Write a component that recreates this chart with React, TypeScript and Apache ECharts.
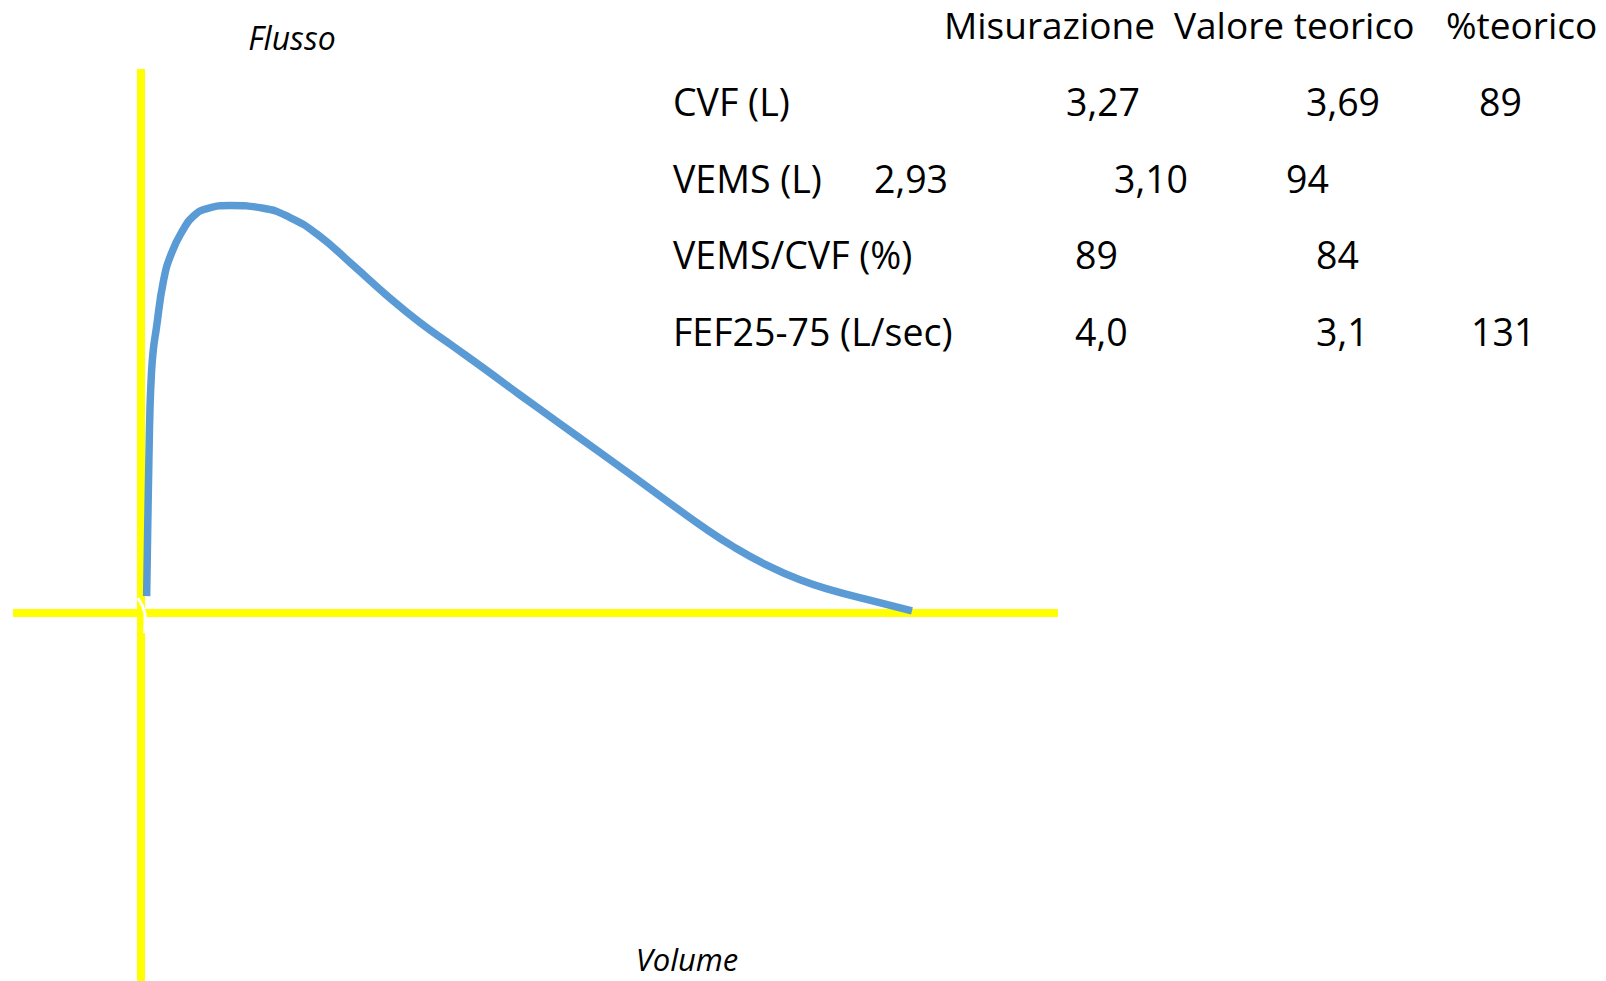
import React, { useEffect, useRef } from "react";
import * as echarts from "echarts";

// ---- Data ----
// Flow-volume curve (volume in L, flow in L/s)
const volume = [
  0.024, 0.029, 0.0335, 0.038, 0.044, 0.052, 0.064, 0.096, 0.13, 0.178, 0.221, 0.284, 0.377,
  0.519, 0.632, 0.745, 0.9, 1.042, 1.183, 1.325, 1.466, 1.607, 1.777, 1.947, 2.088, 2.23,
  2.371, 2.512, 2.654, 2.795, 2.936, 3.078, 3.27,
];
const flow = [
  0.31, 1.71, 2.81, 3.73, 4.38, 4.83, 5.2, 6.12, 6.62, 7.04, 7.29, 7.44, 7.49,
  7.44, 7.27, 6.97, 6.39, 5.84, 5.34, 4.9, 4.46, 4.01, 3.48, 2.95, 2.51, 2.06,
  1.62, 1.22, 0.88, 0.61, 0.41, 0.25, 0.04,
];

const axisTitleY = "Flusso";
const axisTitleX = "Volume";

const tableHeaders = ["Misurazione", "Valore teorico", "%teorico"];
const rowLabels = ["CVF (L)", "VEMS (L)", "VEMS/CVF (%)", "FEF25-75 (L/sec)"];
const misurazione = ["3,27", "2,93", "89", "4,0"];
const valoreTeorico = ["3,69", "3,10", "84", "3,1"];
const percentTeorico = ["89", "94", "", "131"];

// ---- Layout (positions only) ----
const headerX = [944, 1174, 1446];
const headerY = 24;
const rowY = [101.5, 178, 254.5, 331];
const labelX = 673;
const valueColX = [
  [1066, 1306, 1479],
  [874, 1114, 1286],
  [1075, 1316, 1470],
  [1075, 1316, 1471],
];

const FONT = "'Open Sans', 'Liberation Sans', sans-serif";

export default function App() {
  const ref = useRef<HTMLDivElement>(null);

  useEffect(() => {
    if (!ref.current) return;
    const chart = echarts.init(ref.current, undefined, { renderer: "svg" });

    const textEl = (
      text: string,
      x: number,
      y: number,
      size: number,
      align: string = "left",
      italic = false
    ) => ({
      type: "text",
      x,
      y,
      z: 100,
      style: {
        text,
        fill: "#000000",
        fontSize: size,
        fontFamily: FONT,
        fontStyle: italic ? "italic" : "normal",
        align,
        verticalAlign: "middle",
        textAlign: align,
        textVerticalAlign: "middle",
      },
    });

    const graphics: any[] = [];
    graphics.push(textEl(axisTitleY, 292, 37.5, 32, "center", true));
    graphics.push(textEl(axisTitleX, 687, 959, 31, "center", true));
    tableHeaders.forEach((h, i) => graphics.push(textEl(h, headerX[i], headerY, 37)));
    rowLabels.forEach((lab, r) => {
      graphics.push(textEl(lab, labelX, rowY[r], 37.5));
      const vals = [misurazione[r], valoreTeorico[r], percentTeorico[r]];
      vals.forEach((v, c) => {
        if (v) graphics.push(textEl(v, valueColX[r][c], rowY[r], 37.5));
      });
    });
    // small white cut near the axes crossing
    graphics.push({
      type: "polyline",
      z: 100,
      shape: {
        points: [
          [138, 598],
          [142.5, 606],
          [145, 614],
          [145, 624],
          [144.5, 633],
        ],
      },
      style: { stroke: "#ffffff", lineWidth: 3, fill: null },
    });

    const data = volume.map((v, i) => [v, flow[i]]);

    chart.setOption({
      animation: false,
      backgroundColor: "#ffffff",
      grid: { left: 13, right: 548, top: 69, bottom: 0, containLabel: false },
      xAxis: {
        type: "value",
        min: -0.5429,
        max: 3.8893,
        axisLine: { show: true, onZero: true, lineStyle: { color: "#FFFF00", width: 8, cap: "butt" } },
        axisTick: { show: false },
        axisLabel: { show: false },
        splitLine: { show: false },
      },
      yAxis: {
        type: "value",
        min: -6.765,
        max: 10,
        axisLine: { show: true, onZero: true, lineStyle: { color: "#FFFF00", width: 8, cap: "butt" } },
        axisTick: { show: false },
        axisLabel: { show: false },
        splitLine: { show: false },
      },
      series: [
        {
          type: "line",
          data,
          showSymbol: false,
          symbol: "none",
          smooth: 0.5,
          lineStyle: { color: "#5B9BD5", width: 7.5, cap: "butt", join: "round" },
          z: 3,
        },
      ],
      graphic: graphics,
    });

    return () => chart.dispose();
  }, []);

  return (
    <div
      ref={ref}
      style={{ position: "absolute", left: 0, top: 0, width: 1606, height: 981, background: "#fff" }}
    />
  );
}
